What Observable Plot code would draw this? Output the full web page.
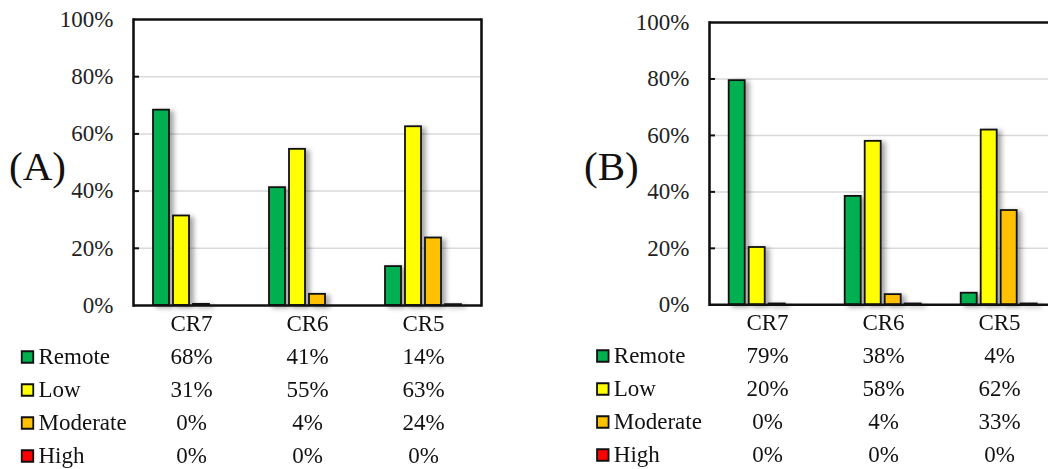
<!DOCTYPE html>
<html>
<head>
<meta charset="utf-8">
<script src="https://cdn.jsdelivr.net/npm/d3@7"></script>
<script src="https://cdn.jsdelivr.net/npm/@observablehq/plot@0.6"></script>
<style>
  html, body { margin: 0; padding: 0; background: #fff; }
  body { width: 1048px; height: 469px; overflow: hidden; position: relative; font-family: "Liberation Serif", "Times New Roman", serif; }
  .abs { position: absolute; }
  .abs svg { max-width: none !important; }
  .panel-label { font-size: 41px; line-height: 1; color: #111; }
</style>
</head>
<body>
<div id="chartA" class="abs" style="left:0px;top:0px;width:491px"></div>
<div id="tableA" class="abs" style="left:0px;top:306px;width:491px"></div>
<div id="chartB" class="abs" style="left:575px;top:0px;width:492px"></div>
<div id="tableB" class="abs" style="left:575px;top:305px;width:492px"></div>
<div class="abs panel-label" style="left:9px;top:146px">(A)</div>
<div class="abs panel-label" style="left:584px;top:146px">(B)</div>
<script>
// ---- data ----
const categories = ["CR7", "CR6", "CR5"];
const series = ["Remote", "Low", "Moderate", "High"];
const seriesColors = ["#00b050", "#ffff00", "#ffc000", "#ff0000"];
const yTicks = [0, 20, 40, 60, 80, 100];
const gridTicks = [20, 40, 60, 80];

// Panel A values (%)
const remoteA = [68.3, 41.2, 13.6];
const lowA = [31.3, 54.6, 62.5];
const moderateA = [0.4, 3.9, 23.6];
const highA = [0, 0, 0.3];

// Panel B values (%)
const remoteB = [79.4, 38.4, 4.1];
const lowB = [20.3, 57.9, 61.9];
const moderateB = [0.3, 3.6, 33.4];
const highB = [0, 0.3, 0.3];

function toRows(lists) {
  const rows = [];
  series.forEach((s, i) => {
    categories.forEach((c, j) => rows.push({cat: c, series: s, value: lists[i][j]}));
  });
  return rows;
}

const font = "Liberation Serif, Times New Roman, serif";
const fs = 23;

function chart(rows, opts) {
  const plot = Plot.plot({
    width: opts.width,
    height: 330,
    marginLeft: opts.marginLeft,
    marginRight: opts.marginRight,
    marginTop: opts.marginTop,
    marginBottom: opts.marginBottom,
    style: {fontFamily: font, fontSize: fs + "px", color: "#222", background: "transparent", overflow: "visible", maxWidth: "none"},
    fx: {domain: categories, padding: 0, axis: null, label: null},
    x: {type: "band", domain: series, paddingInner: 0.19, paddingOuter: 0.857, axis: null},
    y: {domain: [0, 100], axis: null},
    color: {domain: series, range: seriesColors},
    marks: [
      Plot.ruleY(gridTicks, {stroke: "#d9d9d9", strokeWidth: 1.5}),
      Plot.ruleY(gridTicks, {stroke: "#111", strokeWidth: 2, facetAnchor: "left", insetRight: 110}),
      Plot.axisY({ticks: yTicks, tickFormat: d => d + "%", tickSize: 0, tickPadding: 20, fontSize: fs, label: null}),
      Plot.barY(rows, {fx: "cat", x: "series", y: "value", fill: "series", stroke: "#111", strokeWidth: 1.8}),
      Plot.ruleY([0, 100], {stroke: "#111", strokeWidth: 2.6}),
      Plot.frame({anchor: "left", facetAnchor: "left", stroke: "#111", strokeWidth: 2.6}),
      Plot.frame({anchor: "right", facetAnchor: "right", stroke: "#111", strokeWidth: 2.6})
    ]
  });
  d3.select(plot).selectAll('g[aria-label="bar"]').style("filter", "drop-shadow(4px 2px 2.5px rgba(0,0,0,0.35))");
  return plot;
}

function table(rows, opts) {
  return Plot.plot({
    width: opts.width,
    height: 167,
    marginLeft: opts.marginLeft,
    marginRight: opts.marginRight,
    marginTop: 0,
    marginBottom: 0,
    style: {fontFamily: font, fontSize: fs + "px", color: "#111", background: "transparent", overflow: "visible", maxWidth: "none"},
    x: {type: "band", domain: categories, padding: 0, axis: null},
    y: {type: "band", domain: ["header", ...series], padding: 0, axis: null},
    color: {domain: series, range: seriesColors},
    marks: [
      Plot.text(categories, {x: d => d, y: () => "header", text: d => d, fontSize: fs, fill: "#111"}),
      Plot.text(rows, {x: "cat", y: "series", text: d => Math.round(d.value) + "%", fontSize: fs, fill: "#111"}),
      Plot.dot(series, {y: d => d, frameAnchor: "left", dx: -106, symbol: "square", r: 6.5, fill: d => d, stroke: "#111", strokeWidth: 1.8}),
      Plot.text(series, {y: d => d, frameAnchor: "left", dx: -95, textAnchor: "start", text: d => d, fontSize: fs, fill: "#111"})
    ]
  });
}

const rowsA = toRows([remoteA, lowA, moderateA, highA]);
const rowsB = toRows([remoteB, lowB, moderateB, highB]);

const optsA = {width: 491, marginLeft: 133, marginRight: 9.5, marginTop: 19, marginBottom: 25};
const optsB = {width: 492, marginLeft: 133.3, marginRight: 9, marginTop: 22, marginBottom: 25.7};

document.getElementById("chartA").append(chart(rowsA, optsA));
document.getElementById("tableA").append(table(rowsA, optsA));
document.getElementById("chartB").append(chart(rowsB, optsB));
document.getElementById("tableB").append(table(rowsB, optsB));
</script>
</body>
</html>
